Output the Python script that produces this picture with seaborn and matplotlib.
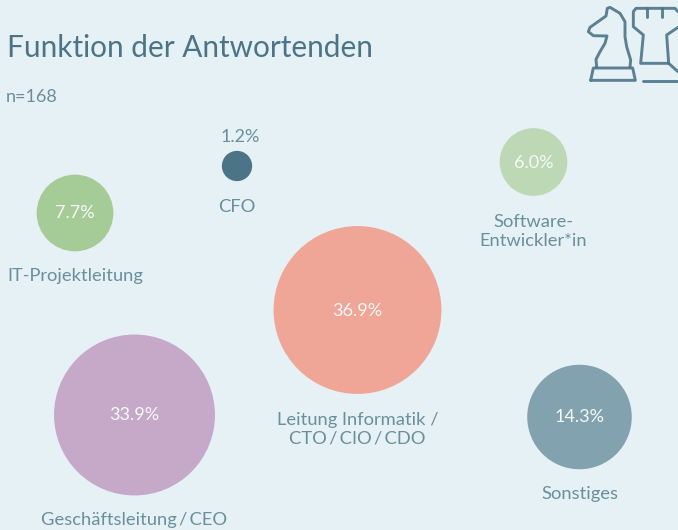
import numpy as np
import pandas as pd
import matplotlib
matplotlib.use('Agg')
import matplotlib.pyplot as plt
import seaborn as sns

# values
categories = ['Leitung Informatik /\nCTO\u2009/\u2009CIO\u2009/\u2009CDO', 'Geschäftsleitung\u2009/\u2009CEO', 'Sonstiges',
              'IT-Projektleitung', 'Software-\nEntwickler*in', 'CFO']
shares = [36.9, 33.9, 14.3, 7.7, 6.0, 1.2]

# bubble layout in pixels
center_x = [357.5, 134.5, 579.5, 75, 533.5, 237]
center_y = [310, 415, 417, 213, 162, 166]
label_y = [429.5, 519.5, 493.5, 275.5, 231.5, 206.5]
colors = ['#F0A696', '#C6A8C8', '#82A2AF', '#A5CB96', '#BCD8B4', '#4C7487']

BG = '#E6F1F6'
DARK = '#4C7487'
SOFT = '#6A8F9C'
PCT = '#F6F9F8'

sns.set_theme(style='white')
plt.rcParams['font.family'] = ['Lato', 'DejaVu Sans']

df = pd.DataFrame({'cat': categories, 'share': shares, 'x': center_x, 'y': center_y})

fig = plt.figure(figsize=(6.78, 5.30), dpi=100, facecolor=BG)
ax = fig.add_axes([0, 0, 1, 1], facecolor=BG)

k = 396  # marker area in pt^2 per percent point
sns.scatterplot(data=df, x='x', y='y', hue='cat', palette=dict(zip(categories, colors)),
                size='share', sizes=(k * min(shares), k * max(shares)),
                size_norm=(min(shares), max(shares)),
                linewidth=0, alpha=1, legend=False, ax=ax, clip_on=False)
ax.set_xlim(0, 678)
ax.set_ylim(530, 0)
ax.axis('off')

for i, cat in enumerate(categories):
    pct = f'{shares[i]:.1f}%'
    if cat == 'CFO':
        ax.text(center_x[i] + 3, 136.5, pct, color=SOFT, fontsize=13, ha='center', va='center')
    else:
        ax.text(center_x[i], center_y[i] + 0.5, pct, color=PCT, fontsize=13, ha='center', va='center')
    ax.text(center_x[i], label_y[i], cat, color=SOFT, fontsize=13.2, ha='center', va='center', linespacing=1.2)

ax.text(7, 48, 'Funktion der Antwortenden', color=DARK, fontsize=21.4, ha='left', va='center')
ax.text(6, 97.5, 'n=168', color=SOFT, fontsize=13, ha='left', va='center')


# chess icon, points
def icon_line(pts, close=False):
    xs = [560 + p[0] / 3 for p in pts]
    ys = [p[1] / 3 for p in pts]
    if close:
        xs.append(xs[0])
        ys.append(ys[0])
    ax.plot(xs, ys, color=DARK, lw=2.1, alpha=0.9, solid_joinstyle='round', solid_capstyle='round')


icon_line([(92, 241), (100, 204), (218, 204), (226, 241)], close=True)
icon_line([(110, 202), (108, 178), (120, 155), (135, 130), (141, 108), (100, 107), (85, 95), (90, 82),
           (138, 48), (142, 25), (150, 22), (180, 40), (195, 65), (195, 110), (200, 140), (212, 180), (210, 202)])
icon_line([(326, 190), (242, 190), (250, 105), (220, 80), (220, 35), (228, 25), (345, 25), (354, 35)])
icon_line([(354, 82), (320, 105), (326, 190), (354, 215)])
icon_line([(250, 242), (354, 242)])
icon_line([(262, 25), (262, 50)])
icon_line([(306, 25), (306, 50)])

fig.savefig('out.png', dpi=100, facecolor=BG)
